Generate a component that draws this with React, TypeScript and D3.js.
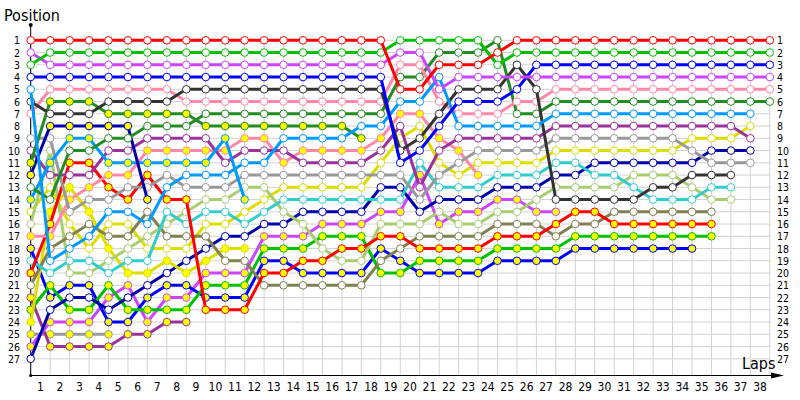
import React from "react";
import * as d3 from "d3";

const laps = d3.range(0, 39);
const lapLabels = d3.range(1, 39);
const positions = d3.range(1, 28);

type Row = (number | null)[];
const rep = (v: number | null, n: number): Row => Array(n).fill(v);

const red1: Row = [...rep(1, 19), 5, 5, 3, 3, 3, 2, ...rep(1, 14)];
const green1: Row = [3, ...rep(2, 18), ...rep(1, 5), 3, ...rep(2, 14)];
const magenta1: Row = [2, ...rep(3, 18), 2, 2, 5, ...rep(4, 17)];
const blue1: Row = [...rep(4, 19), 11, 10, 8, 6, 6, 6, 5, ...rep(3, 13)];
const lightBlue1: Row = [5, 19, 18, 17, 15, 15, 16, 13, 12, 12, 12, 11, 11, 9, 9, 9, 9, 8, 8, 6, 6, 4, 8, 8, 8, 8, 8, ...rep(7, 11), null];
const darkGray: Row = [6, 7, 7, 7, 6, 6, 6, 6, ...rep(5, 11), 10, 9, 7, 5, 5, 5, 3, 5, 14, 14, 14, 14, 14, 13, 13, 12, 12, 12, null, null];
const pink1: Row = [7, ...rep(5, 7), ...rep(6, 11), 3, 3, 6, 7, 7, 7, 6, 6, ...rep(5, 12)];
const forest1: Row = [11, 6, 6, 6, 7, 7, 7, 7, 7, ...rep(8, 8), 9, ...rep(null, 21)];
const forest2: Row = [13, 14, 10, 10, 9, 9, 8, 8, 8, ...rep(7, 10), 4, 4, 2, 2, 2, 1, 7, 7, ...rep(6, 12)];
const navy1: Row = [12, 8, 8, 8, 8, 8, 14, ...rep(null, 32)];
const lightBlue2: Row = [14, 11, 9, 9, 11, 11, 11, 11, 11, 11, 9, 14, ...rep(null, 27)];
const gray1: Row = [9, 9, 15, 14, 14, 13, 13, 12, 13, 13, 13, ...rep(12, 9), 14, 12, 11, 10, 10, 10, 10, ...rep(9, 7), 10, 11, 11, 11, null];
const purple1: Row = [10, 12, 12, 12, 10, 10, 9, 9, 9, 9, 11, 10, 10, 10, 11, 11, 11, 11, 10, 8, 13, 10, 9, 9, 9, 9, 9, ...rep(8, 10), 9, null];
const pink2: Row = [17, 17, 14, 13, 12, 12, 10, 10, 10, 10, 10, 9, 9, 11, 10, 10, 10, 10, 9, 7, 7, 9, 10, 12, ...rep(null, 15)];
const red2: Row = [20, 16, 11, 11, 13, 14, 12, 14, 14, 23, 23, 23, 20, 20, 19, 19, 18, 18, 17, 17, 18, 18, 18, 18, 17, 17, 17, 16, 15, 15, 16, 16, 16, 16, 16, 16, null, null, null];
const cyan: Row = [19, 20, 19, 19, 20, 19, 19, 15, 16, 15, 15, 16, 15, 14, 14, 14, 14, 14, 14, 14, 11, 13, 13, 13, 12, 12, 12, 11, 11, 12, 12, 13, 14, 14, 14, 13, 13, null, null];
const olive: Row = [21, 18, 17, 16, 17, 17, 15, 17, 17, 17, 19, 19, 21, 21, 21, 21, 21, 21, 19, 18, 17, 17, 17, 17, 16, 16, 16, 17, 16, 16, 15, 15, 15, 15, 15, 15, null, null, null];
const lightGreen: Row = [16, 10, 20, 20, 19, 18, 17, 16, 15, 14, 14, 13, 13, 15, 16, 18, 19, 19, 16, 16, 16, 15, 16, 16, 15, 15, 14, 13, 13, 13, 13, 12, 12, 12, 13, 14, 14, null, null];
const yellow1: Row = [15, 13, 16, 18, 16, 16, 18, 18, 18, 16, 16, 15, 14, 13, 13, 13, 13, 13, 11, 9, 8, 11, 12, 11, 11, 11, 11, ...rep(10, 7), 9, 9, 9, 8, null];
const yellow2: Row = [24, 15, 13, 15, 18, 20, 20, 19, 20, 19, 18, 18, ...rep(null, 27)];
const navy2: Row = [27, 23, 22, 22, 23, 22, 21, 20, 19, 18, 17, 17, 16, 16, 15, 15, 15, 15, 13, 13, 15, 14, 14, 14, 13, 13, 13, 12, 12, 11, 11, 11, 11, 11, 11, 10, 10, 10, null];
const green2: Row = [23, 21, 23, 23, 21, 23, 23, 23, 23, 21, 21, 21, 18, 18, 18, 17, 17, 17, 20, 20, 19, 19, 19, 19, 18, 18, 18, 18, ...rep(17, 8), null, null, null];
const blue2: Row = [18, 22, 21, 21, 24, 24, 22, 21, 21, 22, 22, 22, 19, 19, 20, 20, 20, 20, 18, 19, 20, 20, 20, 20, 19, 19, 19, 19, ...rep(18, 7), null, null, null, null];
const magenta2: Row = [26, 24, 24, 24, 22, 21, 24, 22, 22, 20, 20, 20, 17, 17, 17, 16, 16, 16, 15, 15, 12, 16, 15, 15, 14, 14, 15, 15, ...rep(null, 11)];
const purple2: Row = [22, 26, 26, 26, 26, 25, 25, 24, 24, ...rep(null, 30)];
const gray2: Row = [25, 25, 25, 25, 25, ...rep(null, 34)];

const drivers = [
  { rows: gray2, color: "#999999", fill: "#ffff00" },
  { rows: purple2, color: "#993399", fill: "#ffff00" },
  { rows: magenta2, color: "#cc44ff", fill: "#ffff00" },
  { rows: blue2, color: "#0000ff", fill: "#ffff00" },
  { rows: green2, color: "#00c000", fill: "#ffff00" },
  { rows: navy2, color: "#0000aa", fill: "#ffffff" },
  { rows: yellow2, color: "#dddd00", fill: "#ffff00" },
  { rows: yellow1, color: "#dddd00", fill: "#ffffff" },
  { rows: lightGreen, color: "#a8cc70", fill: "#ffffff" },
  { rows: olive, color: "#808050", fill: "#ffffff" },
  { rows: cyan, color: "#33cccc", fill: "#ffffff" },
  { rows: red2, color: "#ff0000", fill: "#ffff00" },
  { rows: pink2, color: "#ff88a8", fill: "#ffff00" },
  { rows: purple1, color: "#993399", fill: "#ffffff" },
  { rows: gray1, color: "#999999", fill: "#ffffff" },
  { rows: lightBlue2, color: "#0099ff", fill: "#ffff00" },
  { rows: navy1, color: "#0000aa", fill: "#ffff00" },
  { rows: forest2, color: "#228b22", fill: "#ffffff" },
  { rows: forest1, color: "#228b22", fill: "#ffff00" },
  { rows: pink1, color: "#ff88a8", fill: "#ffffff" },
  { rows: darkGray, color: "#333333", fill: "#ffffff" },
  { rows: lightBlue1, color: "#0099ff", fill: "#ffffff" },
  { rows: blue1, color: "#0000ff", fill: "#ffffff" },
  { rows: magenta1, color: "#cc44ff", fill: "#ffffff" },
  { rows: green1, color: "#00c000", fill: "#ffffff" },
  { rows: red1, color: "#ff0000", fill: "#ffffff" },
];

const W = 800;
const H = 400;
const x = d3.scaleLinear().domain([0, 38]).range([30.7, 769.8]);
const y = d3.scaleLinear().domain([1, 27]).range([40.3, 358.8]);
const axisY = 375.5;
const font = "'DejaVu Sans Condensed', 'DejaVu Sans', sans-serif";

export default function App() {
  const line = d3
    .line<number | null>()
    .defined((d) => d != null)
    .x((_, i) => x(i))
    .y((d) => y(d as number));

  return (
    <svg width={W} height={H} style={{ position: "absolute", left: 0, top: 0, background: "#fff" }}>
      <g>
        {positions.map((p) => (
          <line key={"h" + p} x1={x(0)} x2={x(38)} y1={y(p)} y2={y(p)} stroke="#d2d2d2" strokeWidth={1} />
        ))}
        {laps.map((l) => (
          <line key={"v" + l} x1={x(l)} x2={x(l)} y1={y(1)} y2={axisY} stroke="#d2d2d2" strokeWidth={1} />
        ))}
      </g>
      <line x1={x(0)} x2={x(0)} y1={25} y2={axisY} stroke="#000" strokeWidth={1} />
      <circle cx={x(0)} cy={25} r={2} fill="#000" />
      <circle cx={x(0)} cy={axisY} r={1.5} fill="#000" />
      <line x1={x(0)} x2={776} y1={axisY} y2={axisY} stroke="#000" strokeWidth={1} />
      <path d={`M771,${axisY - 3} L784,${axisY} L771,${axisY + 3} Z`} fill="#000" />
      <text x={4} y={21} fontFamily={font} fontStretch="condensed" fontSize={16} fill="#000">Position</text>
      <text x={742} y={369} fontFamily={font} fontStretch="condensed" fontSize={16} fill="#000">Laps</text>
      {positions.map((p) => (
        <text key={"l" + p} x={20} y={y(p) + 4} textAnchor="end" fontFamily={font} fontStretch="condensed" fontSize={10.5} fill="#000">{p}</text>
      ))}
      {positions.map((p) => (
        <text key={"r" + p} x={777} y={y(p) + 4} textAnchor="start" fontFamily={font} fontStretch="condensed" fontSize={10.5} fill="#000">{p}</text>
      ))}
      {lapLabels.map((l) => (
        <text key={"x" + l} x={x(l - 0.5)} y={391} textAnchor="middle" fontFamily={font} fontStretch="condensed" fontSize={12} fill="#000">{l}</text>
      ))}
      {drivers.map((d, i) => (
        <g key={"d" + i}>
          <path d={line(d.rows) || ""} fill="none" stroke={d.color} strokeWidth={3} strokeLinejoin="round" />
          {d.rows.map((r, li) =>
            r == null ? null : (
              <circle key={li} cx={x(li)} cy={y(r)} r={3.8} fill={d.fill} stroke={d.color} strokeWidth={1} />
            )
          )}
        </g>
      ))}
    </svg>
  );
}
